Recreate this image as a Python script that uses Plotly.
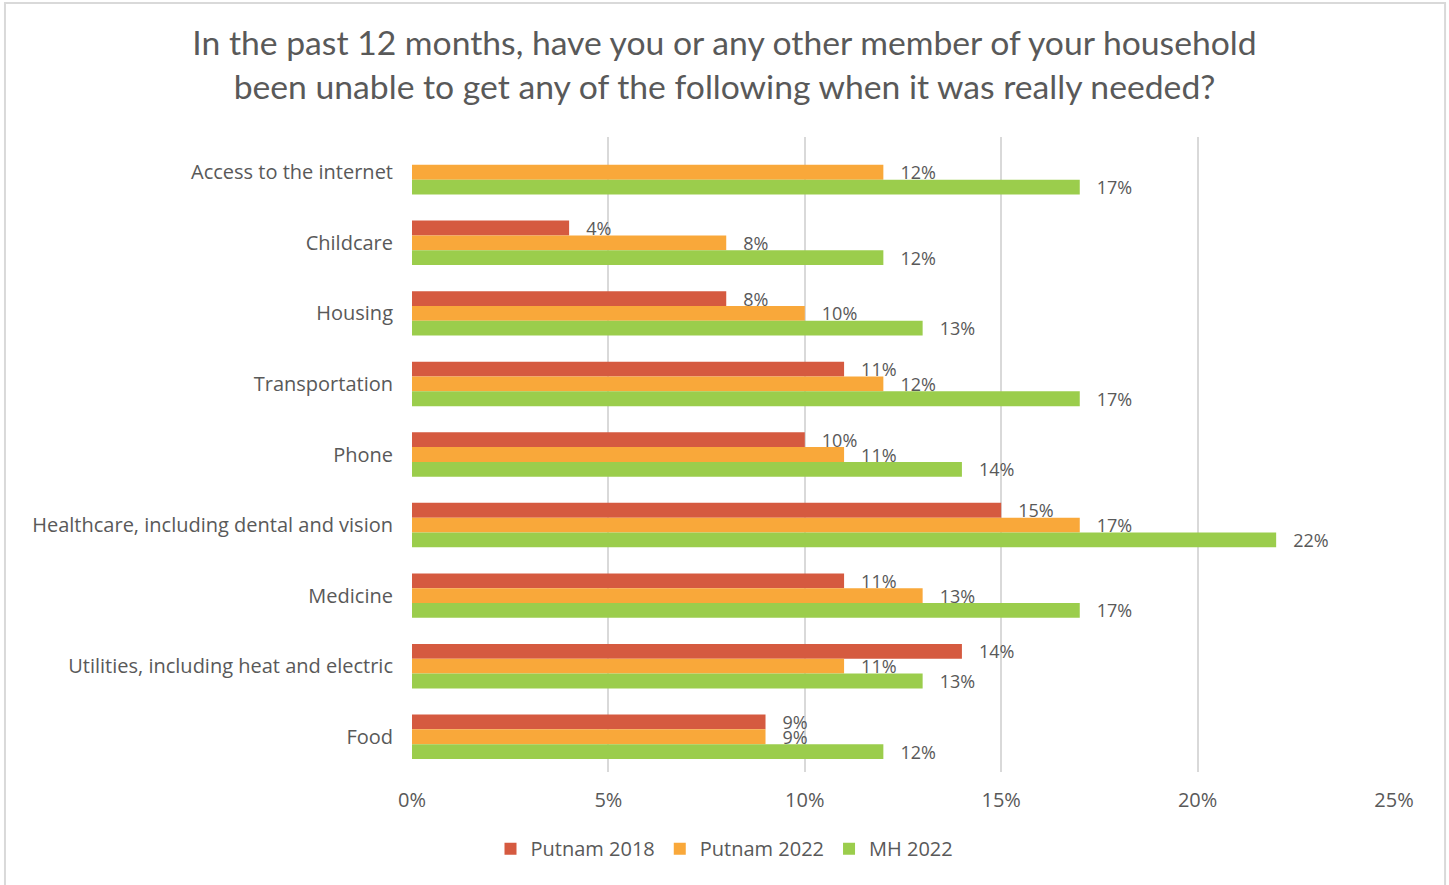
import plotly.graph_objects as go

categories = ["Access to the internet", "Childcare", "Housing", "Transportation", "Phone",
              "Healthcare, including dental and vision", "Medicine",
              "Utilities, including heat and electric", "Food"]
putnam_2018 = [None, 0.04, 0.08, 0.11, 0.10, 0.15, 0.11, 0.14, 0.09]
putnam_2022 = [0.12, 0.08, 0.10, 0.12, 0.11, 0.17, 0.13, 0.11, 0.09]
mh_2022 = [0.17, 0.12, 0.13, 0.17, 0.14, 0.22, 0.17, 0.13, 0.12]
x_ticks = [0, 0.05, 0.10, 0.15, 0.20, 0.25]
x_tick_labels = ["0%", "5%", "10%", "15%", "20%", "25%"]

series = [("Putnam 2018", putnam_2018, "#D55A40"),
          ("Putnam 2022", putnam_2022, "#F9A83A"),
          ("MH 2022", mh_2022, "#9BCD4C")]

FONT = "'Open Sans', 'Noto Sans', sans-serif"
TFONT = "Lato, 'Noto Sans', sans-serif"
GREY = "#595959"

fig = go.Figure()
for name, vals, color in series:
    fig.add_trace(go.Bar(
        y=categories, x=vals, name=name, orientation="h",
        marker=dict(color=color, line=dict(width=0)),
        texttemplate="   %{x:.0%}", textposition="outside",
        textfont=dict(family=FONT, size=18, color=GREY),
        constraintext="none", cliponaxis=False,
    ))

fig.update_layout(
    width=1449, height=885,
    paper_bgcolor="white", plot_bgcolor="white",
    barmode="group", bargap=0.37, bargroupgap=0,
    margin=dict(l=412, r=55, t=137, b=113, autoexpand=False),
    title=dict(
        text="In the past 12 months, have you or any other member of your household<br>been unable to get any of the following when it was really needed?",
        x=0.5, xref="container", xanchor="center", y=0.938, yanchor="top",
        font=dict(family=TFONT, size=33.7, color=GREY),
    ),
    font=dict(family=FONT, color=GREY),
    xaxis=dict(range=[0, 0.25], tickvals=x_ticks, ticktext=x_tick_labels,
               showgrid=True, gridcolor="#D9D9D9", gridwidth=2,
               zeroline=False, showline=False, ticks="", automargin=False,
               ticklabelstandoff=14,
               tickfont=dict(family=FONT, size=20, color=GREY)),
    yaxis=dict(autorange="reversed", showgrid=False, zeroline=False,
               showline=False, ticks="", ticklabelstandoff=18, automargin=False,
               tickfont=dict(family=FONT, size=20, color=GREY)),
    legend=dict(orientation="h", xref="container", x=0.5, xanchor="center",
                y=-0.09, yanchor="top",
                traceorder="normal", itemwidth=30,
                font=dict(family=FONT, size=20, color=GREY)),
    shapes=[dict(type="rect", xref="paper", yref="paper",
                 x0=-0.4145, x1=1.052, y0=-0.25, y1=1.211,
                 line=dict(color="#D9D9D9", width=2), fillcolor="rgba(0,0,0,0)")],
)

fig.write_html("out.html", config={"displayModeBar": False},
               post_script="document.body.style.margin='0';document.body.style.padding='0';")
